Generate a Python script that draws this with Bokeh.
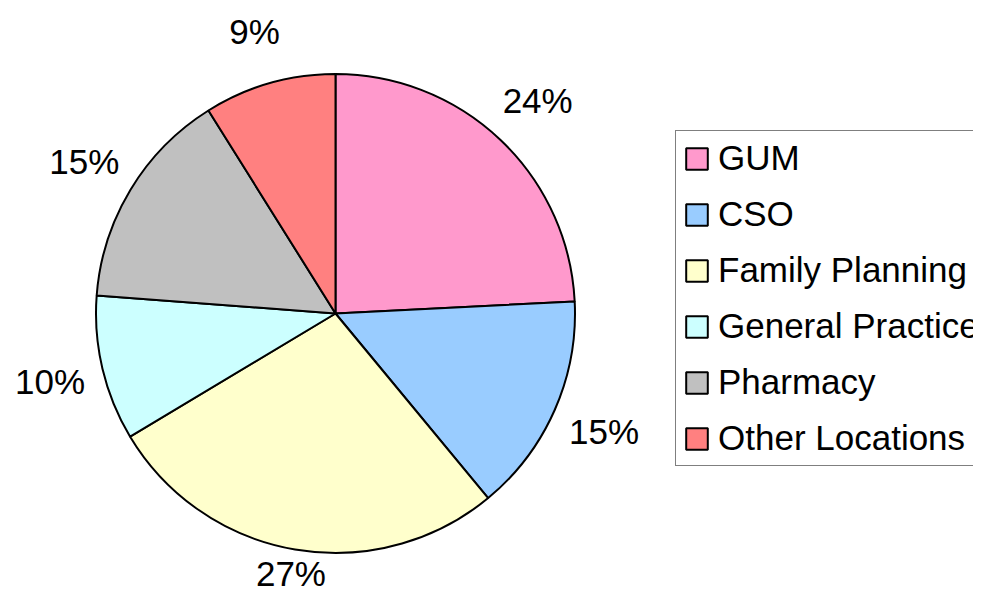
import math
from bokeh.plotting import figure
from bokeh.models import ColumnDataSource, Range1d
from bokeh.core.properties import value
from bokeh.embed import file_html
from bokeh.resources import INLINE

# ---- data ----
categories = ["GUM", "CSO", "Family Planning", "General Practice", "Pharmacy", "Other Locations"]
shares = [24.2, 14.8, 27.4, 9.8, 14.9, 8.9]
colors = ["#FF99CC", "#99CCFF", "#FFFFCC", "#CCFFFF", "#C0C0C0", "#FF8080"]

# ---- geometry (pixel-scaled data space, pie centre at 0,0) ----
W, H = 973, 593
R = 239.5
CX, CY = 335, 313
X0, X1 = -CX, W - CX
Y0, Y1 = CY - H, CY
FONT = "Liberation Sans"

total = sum(shares)
starts, ends, mids = [], [], []
acc = 0.0
for s in shares:
    a0 = acc / total
    acc += s
    a1 = acc / total
    starts.append(math.pi / 2 - 2 * math.pi * a0)
    ends.append(math.pi / 2 - 2 * math.pi * a1)
    mids.append(math.pi / 2 - math.pi * (a0 + a1))

src = ColumnDataSource(dict(cat=categories, start=starts, end=ends, color=colors))

p = figure(width=W, height=H, x_range=Range1d(X0, X1), y_range=Range1d(Y0, Y1),
           output_backend="svg", toolbar_location=None, min_border=0,
           background_fill_color="white", border_fill_color="white")
p.axis.visible = False
p.grid.visible = False
p.outline_line_color = None

p.wedge(x=0, y=0, radius=R, start_angle="start", end_angle="end", direction="clock",
        fill_color="color", line_color="black", line_width=2, source=src,
        legend_field="cat")

# percentage labels outside the pie
lr = R * 1.225
half_h = 20
lx, ly, lt = [], [], []
for m, s in zip(mids, shares):
    x = lr * math.cos(m)
    y = lr * math.sin(m)
    if y < Y0 + half_h:
        # pull the label inward along its ray so it stays inside the chart
        k = (Y0 + half_h) / y
        x, y = x * k, y * k
    lx.append(x)
    ly.append(y)
    lt.append(f"{round(s / total * 100)}%")
p.text(x=lx, y=ly, text=lt, text_align="center", text_baseline="middle",
       text_font=value(FONT), text_font_size="35px", text_color="black")

lg = p.legend[0]
lg.location = (675, H - 466)
lg.label_text_font = FONT
lg.label_text_font_size = "35px"
lg.label_text_color = "black"
lg.glyph_width = 27
lg.glyph_height = 27
lg.label_height = 27
lg.spacing = 16
lg.padding = 7
lg.label_standoff = 8
lg.border_line_color = "black"
lg.border_line_width = 1
lg.background_fill_color = "white"
lg.background_fill_alpha = 1
lg.margin = 0

open("out.html", "w").write(file_html(p, INLINE))
